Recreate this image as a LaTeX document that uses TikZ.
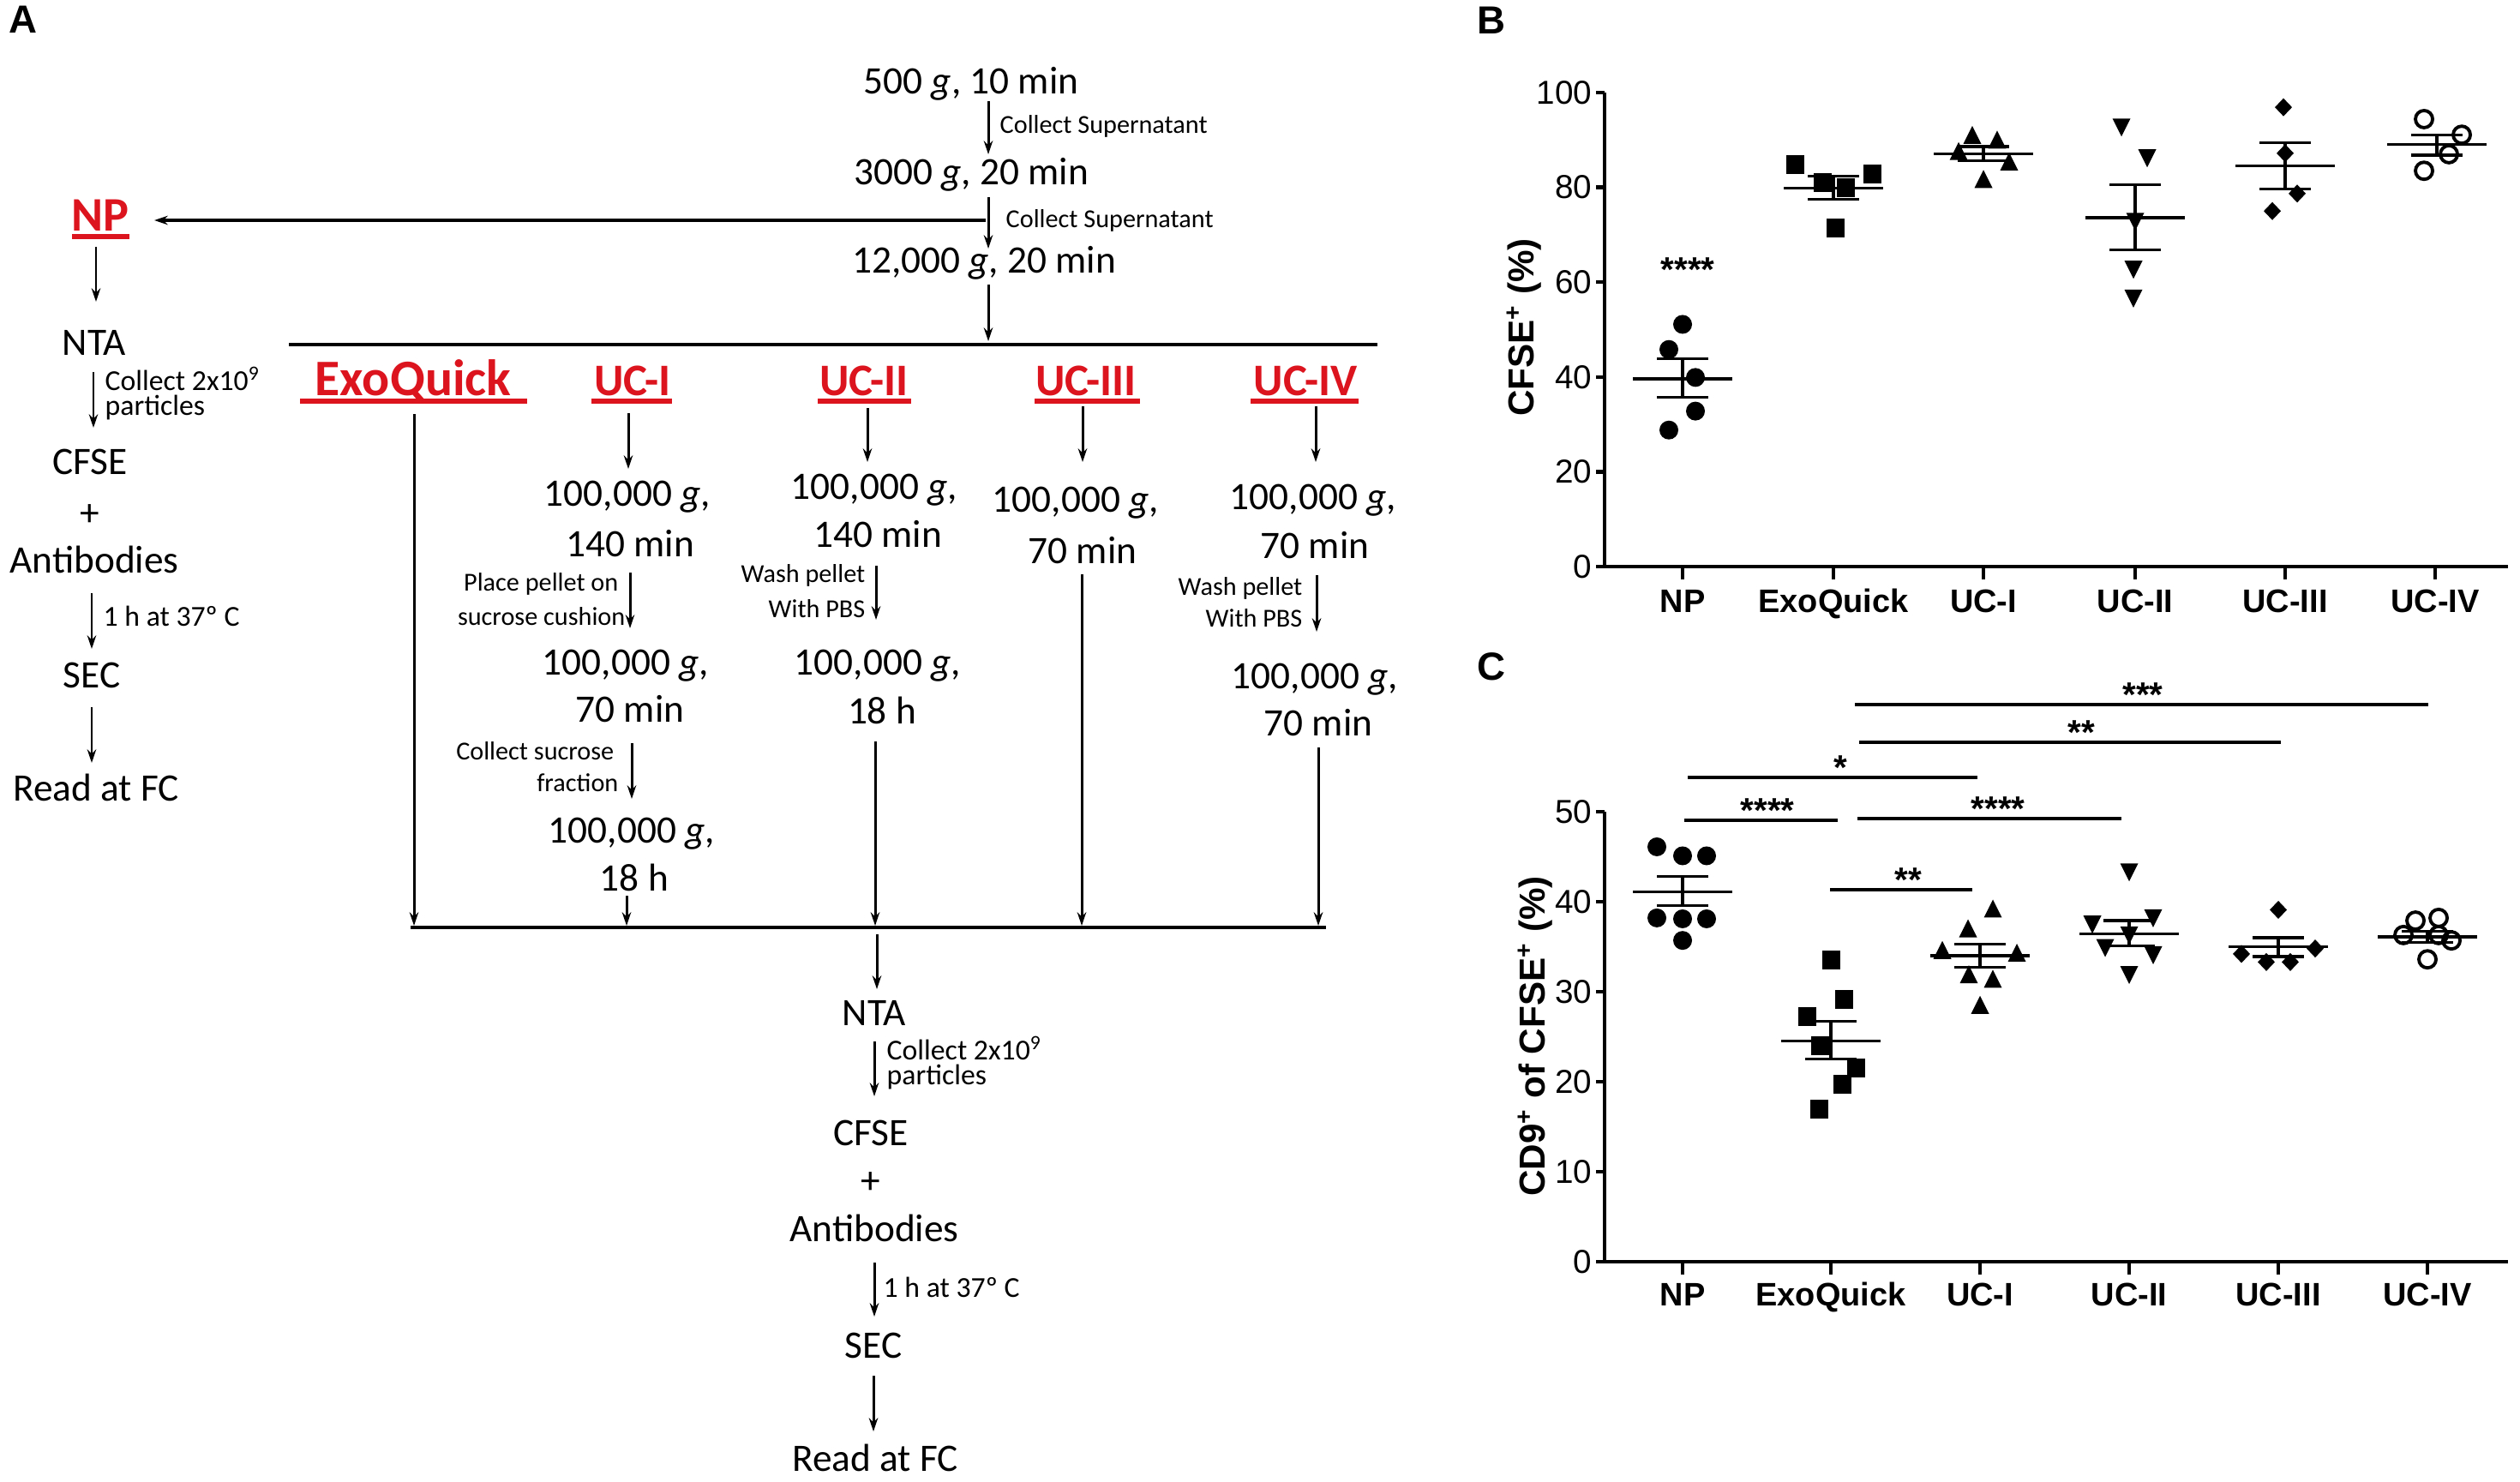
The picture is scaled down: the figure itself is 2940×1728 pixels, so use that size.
\documentclass[tikz,border=0pt]{standalone}
\usepackage{fontspec}
\setmainfont{Carlito}
\newfontfamily\arialf{Liberation Sans}
\usetikzlibrary{arrows.meta}
\definecolor{exored}{RGB}{220,20,30}

\newcommand\yb{661}
\newcommand\ys{5.53}
\newcommand\plotdot[2]{\fill (#1,\yb-\ys*#2) circle[radius=11];}
\newcommand\plotsq[2]{\fill (#1-10.5,\yb-\ys*#2-11) rectangle (#1+10.5,\yb-\ys*#2+11);}
\newcommand\plotup[2]{\fill (#1,\yb-\ys*#2-12) -- (#1+10.5,\yb-\ys*#2+9) -- (#1-10.5,\yb-\ys*#2+9) -- cycle;}
\newcommand\plotdn[2]{\fill (#1,\yb-\ys*#2+12) -- (#1+10.5,\yb-\ys*#2-9) -- (#1-10.5,\yb-\ys*#2-9) -- cycle;}
\newcommand\plotdia[2]{\fill (#1,\yb-\ys*#2-10.5) -- (#1+10,\yb-\ys*#2) -- (#1,\yb-\ys*#2+10.5) -- (#1-10,\yb-\ys*#2) -- cycle;}
\newcommand\plotring[2]{\draw[line width=1.1pt] (#1,\yb-\ys*#2) circle[radius=10];}
\newcommand\meansem[4]{%
 \draw[mline] (#1-58,\yb-\ys*#2) -- (#1+58,\yb-\ys*#2);
 \draw[mline] (#1,\yb-\ys*#3) -- (#1,\yb-\ys*#4);
 \draw[mline] (#1-30,\yb-\ys*#3) -- (#1+30,\yb-\ys*#3);
 \draw[mline] (#1-30,\yb-\ys*#4) -- (#1+30,\yb-\ys*#4);}

\begin{document}
\begin{tikzpicture}[x=0.1mm,y=-0.1mm,
  big/.style={font=\fontsize{12.9}{14}\selectfont, anchor=mid, inner sep=0pt, yshift=-1.7pt},
  sm/.style={font=\fontsize{8.6}{10}\selectfont, inner sep=0pt},
  smb/.style={font=\fontsize{9.6}{11}\selectfont, inner sep=0pt},
  redlbl/.style={font=\fontsize{15}{17}\selectfont\bfseries, text=exored, anchor=mid, inner sep=0pt, yshift=-2.8pt},
  arr/.style={line width=0.85pt, -{Stealth[length=4.5pt,width=3pt]}},
  bar/.style={line width=1.3pt},
  uline/.style={line width=1.6pt, exored},
  axis/.style={line width=1.2pt},
  mline/.style={line width=0.9pt},
  cat/.style={font=\arialf\bfseries\fontsize{10.8}{12}\selectfont, anchor=mid, inner sep=0pt},
  tick/.style={font=\arialf\fontsize{11}{12}\selectfont, anchor=east, inner sep=0pt},
  star/.style={font=\arialf\bfseries\fontsize{11.5}{12}\selectfont, anchor=base, inner sep=0pt},
  panel/.style={font=\arialf\bfseries\fontsize{13}{15}\selectfont, inner sep=0pt},
  ylab/.style={font=\arialf\bfseries\fontsize{12}{14}\selectfont, rotate=90, inner sep=0pt}]
\fill[white] (0,0) rectangle (2940,1728);
\useasboundingbox (0,0) rectangle (2940,1728);

% ================= Panel A =================
\node[panel] (lA) at (27,23) {A};

\node[big] (n500) at (1133,95) {500 \textit{g}, 10 min};
\node[big] (n3000) at (1133,201) {3000 \textit{g}, 20 min};
\node[big] (n12k) at (1148,304) {12,000 \textit{g}, 20 min};
\node[sm,anchor=west] (cs1) at (1166,147) {Collect Supernatant};
\node[sm,anchor=west] (cs2) at (1173,257) {Collect Supernatant};

\coordinate (t1a) at (1153,118); \coordinate (t1b) at (1153,180);
\coordinate (t2a) at (1153,230); \coordinate (t2b) at (1153,290);
\coordinate (t3a) at (1153,332); \coordinate (t3b) at (1153,398);
\coordinate (npa) at (1150,257); \coordinate (npb) at (180,257);
\draw[arr] (t1a) -- (t1b);
\draw[arr] (t2a) -- (t2b);
\draw[arr] (t3a) -- (t3b);
\draw[arr, line width=1.1pt] (npa) -- (npb);

\node[redlbl, font=\fontsize{16}{18}\selectfont\bfseries, yshift=0.4pt] (NP) at (117,253) {NP};
\draw[uline] (84,276) -- (151,276);

\coordinate (barLa) at (337,402); \coordinate (barLb) at (1607,402);
\draw[bar] (barLa) -- (barLb);

\node[redlbl, font=\fontsize{17}{19}\selectfont\bfseries] (EQ) at (482,443) {ExoQuick};
\node[redlbl] (U1) at (738,443) {UC-I};
\node[redlbl] (U2) at (1008,443) {UC-II};
\node[redlbl] (U3) at (1267,443) {UC-III};
\node[redlbl] (U4) at (1523,443) {UC-IV};
\draw[uline] (350,468) -- (615,468);
\draw[uline] (690,468) -- (784,468);
\draw[uline] (954,468) -- (1063,468);
\draw[uline] (1207,468) -- (1330,468);
\draw[uline] (1459,468) -- (1585,468);

% left column (NP)
\coordinate (l1a) at (112,288); \coordinate (l1b) at (112,352);
\coordinate (l2a) at (109,434); \coordinate (l2b) at (109,499);
\coordinate (l3a) at (107,692); \coordinate (l3b) at (107,757);
\coordinate (l4a) at (107,825); \coordinate (l4b) at (107,890);
\draw[arr] (l1a) -- (l1b);
\draw[arr] (l2a) -- (l2b);
\draw[arr] (l3a) -- (l3b);
\draw[arr] (l4a) -- (l4b);
\node[big] (NTA1) at (110,400) {NTA};
\node[smb,anchor=west] (col1) at (122,442) {Collect 2x10\textsuperscript{9}};
\node[smb,anchor=west] (par1) at (122,476) {particles};
\node[big] (CF1) at (105,539) {CFSE};
\node[big] (pl1) at (105,599) {+};
\node[big] (AB1) at (110,654) {Antibodies};
\node[smb,anchor=west] (h1) at (120,719) {1 h at 37º C};
\node[big] (SEC1) at (107,788) {SEC};
\node[big] (RF1) at (112,920) {Read at FC};

% ExoQuick column
\coordinate (e1a) at (483,483); \coordinate (e1b) at (483,1080);
\draw[arr] (e1a) -- (e1b);

% UC-I column
\coordinate (u1a) at (733,482); \coordinate (u1b) at (733,547);
\coordinate (u1c) at (735,668); \coordinate (u1d) at (735,733);
\coordinate (u1e) at (737,867); \coordinate (u1f) at (737,932);
\coordinate (u1g) at (731,1045); \coordinate (u1h) at (731,1080);
\draw[arr] (u1a) -- (u1b);
\draw[arr] (u1c) -- (u1d);
\draw[arr] (u1e) -- (u1f);
\draw[arr] (u1g) -- (u1h);
\node[big] (u1t1) at (732,576) {100,000 \textit{g},};
\node[big] (u1t2) at (735,635) {140 min};
\node[sm,anchor=east] (u1s1) at (722,681) {Place pellet on};
\node[sm,anchor=east] (u1s2) at (730,719) {sucrose cushion};
\node[big] (u1t3) at (730,773) {100,000 \textit{g},};
\node[big] (u1t4) at (735,828) {70 min};
\node[sm,anchor=east] (u1s3) at (717,876) {Collect sucrose};
\node[sm,anchor=east] (u1s4) at (722,913) {fraction};
\node[big] (u1t5) at (737,969) {100,000 \textit{g},};
\node[big] (u1t6) at (740,1025) {18 h};

% UC-II column
\coordinate (u2a) at (1012,476); \coordinate (u2b) at (1012,539);
\coordinate (u2c) at (1022,660); \coordinate (u2d) at (1022,723);
\coordinate (u2e) at (1021,865); \coordinate (u2f) at (1021,1080);
\draw[arr] (u2a) -- (u2b);
\draw[arr] (u2c) -- (u2d);
\draw[arr] (u2e) -- (u2f);
\node[big] (u2t1) at (1020,568) {100,000 \textit{g},};
\node[big] (u2t2) at (1024,624) {140 min};
\node[sm,anchor=east] (u2s1) at (1010,671) {Wash pellet};
\node[sm,anchor=east] (u2s2) at (1010,710) {With PBS};
\node[big] (u2t3) at (1024,773) {100,000 \textit{g},};
\node[big] (u2t4) at (1029,830) {18 h};

% UC-III column
\coordinate (u3a) at (1263,474); \coordinate (u3b) at (1263,539);
\coordinate (u3c) at (1262,670); \coordinate (u3d) at (1262,1080);
\draw[arr] (u3a) -- (u3b);
\draw[arr] (u3c) -- (u3d);
\node[big] (u3t1) at (1255,583) {100,000 \textit{g},};
\node[big] (u3t2) at (1263,643) {70 min};

% UC-IV column
\coordinate (u4a) at (1535,474); \coordinate (u4b) at (1535,539);
\coordinate (u4c) at (1536,671); \coordinate (u4d) at (1536,737);
\coordinate (u4e) at (1538,872); \coordinate (u4f) at (1538,1080);
\draw[arr] (u4a) -- (u4b);
\draw[arr] (u4c) -- (u4d);
\draw[arr] (u4e) -- (u4f);
\node[big] (u4t1) at (1532,580) {100,000 \textit{g},};
\node[big] (u4t2) at (1534,637) {70 min};
\node[sm,anchor=east] (u4s1) at (1520,686) {Wash pellet};
\node[sm,anchor=east] (u4s2) at (1520,721) {With PBS};
\node[big] (u4t3) at (1534,789) {100,000 \textit{g},};
\node[big] (u4t4) at (1538,844) {70 min};

% bottom bar and chain
\coordinate (barBa) at (479,1082); \coordinate (barBb) at (1547,1082);
\draw[bar] (barBa) -- (barBb);
\coordinate (b1a) at (1023,1090); \coordinate (b1b) at (1023,1154);
\coordinate (b2a) at (1020,1215); \coordinate (b2b) at (1020,1279);
\coordinate (b3a) at (1020,1473); \coordinate (b3b) at (1020,1536);
\coordinate (b4a) at (1019,1605); \coordinate (b4b) at (1019,1670);
\draw[arr] (b1a) -- (b1b);
\draw[arr] (b2a) -- (b2b);
\draw[arr] (b3a) -- (b3b);
\draw[arr] (b4a) -- (b4b);
\node[big] (NTA2) at (1020,1182) {NTA};
\node[smb,anchor=west] (col2) at (1034,1223) {Collect 2x10\textsuperscript{9}};
\node[smb,anchor=west] (par2) at (1034,1256) {particles};
\node[big] (CF2) at (1016,1322) {CFSE};
\node[big] (pl2) at (1016,1378) {+};
\node[big] (AB2) at (1020,1434) {Antibodies};
\node[smb,anchor=west] (h2) at (1030,1502) {1 h at 37º C};
\node[big] (SEC2) at (1019,1570) {SEC};
\node[big] (RF2) at (1021,1702) {Read at FC};

% ================= Panel B =================
\node[panel] (lB) at (1740,24) {B};
\renewcommand\yb{661}\renewcommand\ys{5.53}
\draw[axis] (1872,108) -- (1872,661) -- (2926,661);
\foreach \v in {0,20,40,60,80,100} {
  \draw[axis] (1862,\yb-\ys*\v) -- (1872,\yb-\ys*\v);
  \node[tick] at (1858,\yb-\ys*\v) {\v};
}
\foreach \cx/\lab in {1963/NP,2139/ExoQuick,2314/UC-I,2491/UC-II,2666/UC-III,2841/UC-IV} {
  \draw[axis] (\cx,661) -- (\cx,676);
  \node[cat] at (\cx,706) {\lab};
}
\node[ylab] (yB) at (1778,382) {CFSE\textsuperscript{+} (\%)};
\node[star] (sB) at (1969,328) {****};
% NP
\plotdot{1947}{28.8}\plotdot{1978}{32.8}\plotdot{1978}{39.9}\plotdot{1947}{45.8}\plotdot{1963}{51.1}
\meansem{1963}{39.6}{43.8}{35.7}
% ExoQuick
\plotsq{2094}{84.8}\plotsq{2126}{81.1}\plotsq{2153}{79.9}\plotsq{2184}{82.9}\plotsq{2141}{71.4}
\meansem{2139}{79.9}{82.3}{77.5}
% UC-I
\plotup{2301}{90.8}\plotup{2330}{89.8}\plotup{2285}{87.4}\plotup{2344}{85.2}\plotup{2314}{81.5}
\meansem{2314}{87.0}{88.6}{85.6}
% UC-II
\plotdn{2475}{92.9}\plotdn{2505}{86.4}\plotdn{2491}{73.0}\plotdn{2489}{62.9}\plotdn{2489}{56.8}
\meansem{2491}{73.6}{80.5}{66.8}
% UC-III
\plotdia{2664}{96.9}\plotdia{2666}{87.2}\plotdia{2680}{78.7}\plotdia{2651}{75.0}
\meansem{2666}{84.6}{89.4}{79.7}
% UC-IV
\plotring{2828}{94.4}\plotring{2872}{91.1}\plotring{2857}{87.0}\plotring{2828}{83.5}
\meansem{2843}{89.0}{91.1}{86.8}

% ================= Panel C =================
\node[panel] (lC) at (1740,778) {C};
\renewcommand\yb{1472}\renewcommand\ys{10.5}
\draw[axis] (1872,947) -- (1872,1472) -- (2926,1472);
\foreach \v in {0,10,20,30,40,50} {
  \draw[axis] (1862,\yb-\ys*\v) -- (1872,\yb-\ys*\v);
  \node[tick] at (1858,\yb-\ys*\v) {\v};
}
\foreach \cx/\lab in {1963/NP,2136/ExoQuick,2310/UC-I,2484/UC-II,2658/UC-III,2832/UC-IV} {
  \draw[axis] (\cx,1472) -- (\cx,1487);
  \node[cat] at (\cx,1515) {\lab};
}
\node[ylab] (yC) at (1791,1209) {CD9\textsuperscript{+} of CFSE\textsuperscript{+} (\%)};
% significance bars
\draw[mline] (2164,822) -- (2833,822); \node[star] (s1) at (2500,824) {***};
\draw[mline] (2169,866) -- (2661,866); \node[star] (s2) at (2428,868) {**};
\draw[mline] (1969,907) -- (2307,907); \node[star] (s3) at (2147,909) {*};
\draw[mline] (1965,957) -- (2144,957); \node[star] (s4) at (2062,959) {****};
\draw[mline] (2167,955) -- (2475,955); \node[star] (s5) at (2331,957) {****};
\draw[mline] (2135,1038) -- (2301,1038); \node[star] (s6) at (2226,1040) {**};
% NP
\plotdot{1933}{46.1}\plotdot{1963}{45.1}\plotdot{1991}{45.1}\plotdot{1933}{38.2}\plotdot{1963}{38.1}\plotdot{1991}{38.1}\plotdot{1963}{35.7}
\meansem{1963}{41.1}{42.8}{39.6}
% ExoQuick
\plotsq{2136}{33.5}\plotsq{2151}{29.1}\plotsq{2108}{27.2}\plotsq{2123}{24.0}\plotsq{2165}{21.5}\plotsq{2149}{19.7}\plotsq{2122}{17.0}
\meansem{2136}{24.5}{26.7}{22.5}
% UC-I
\plotup{2325}{39.1}\plotup{2296}{36.9}\plotup{2266}{34.5}\plotup{2353}{34.2}\plotup{2297}{31.8}\plotup{2325}{31.3}\plotup{2310}{28.4}
\meansem{2310}{34.0}{35.3}{32.7}
% UC-II
\plotdn{2484}{43.4}\plotdn{2441}{37.6}\plotdn{2512}{38.3}\plotdn{2484}{36.4}\plotdn{2456}{35.0}\plotdn{2512}{34.2}\plotdn{2484}{32.0}
\meansem{2484}{36.4}{37.9}{35.1}
% UC-III
\plotdia{2658}{39.1}\plotdia{2615}{34.2}\plotdia{2701}{34.8}\plotdia{2644}{33.3}\plotdia{2672}{33.3}
\meansem{2658}{35.0}{36.0}{33.9}
% UC-IV
\plotring{2818}{37.9}\plotring{2845}{38.2}\plotring{2804}{36.3}\plotring{2845}{36.3}\plotring{2860}{35.7}\plotring{2832}{33.6}
\meansem{2832}{36.1}{36.7}{35.5}
\end{tikzpicture}
\end{document}
